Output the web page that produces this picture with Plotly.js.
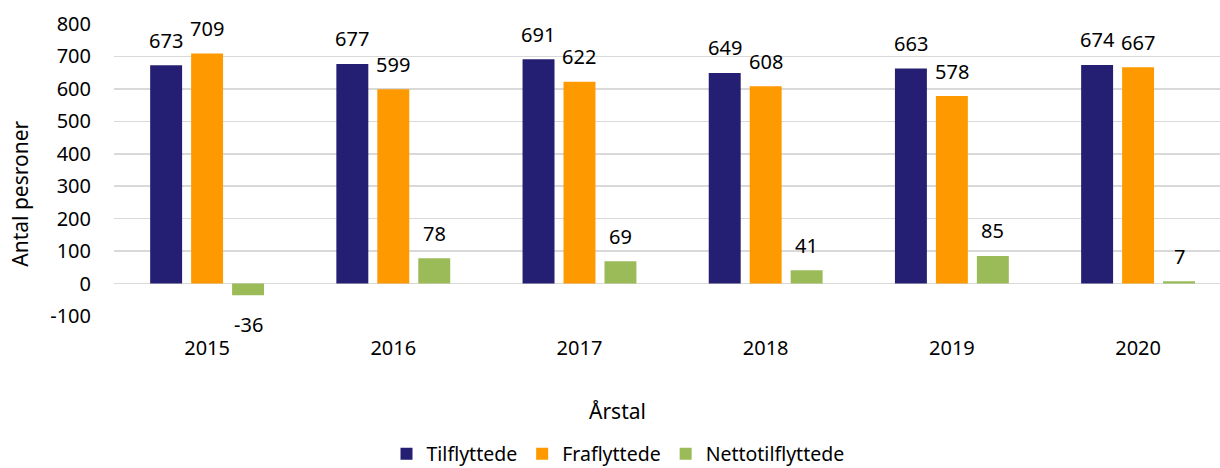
<!DOCTYPE html>
<html>
<head>
<meta charset="utf-8">
<script src="https://cdn.plot.ly/plotly-3.0.1.min.js"></script>
<style>html,body{margin:0;padding:0;background:#fff}#chart{width:1220px;height:468px}</style>
</head>
<body>
<div id="chart"></div>
<script>
const years = ["2015", "2016", "2017", "2018", "2019", "2020"];
const tilflyttede = [673, 677, 691, 649, 663, 674];
const fraflyttede = [709, 599, 622, 608, 578, 667];
const nettotilflyttede = [-36, 78, 69, 41, 85, 7];
const seriesNames = ["Tilflyttede", "Fraflyttede", "Nettotilflyttede"];
const seriesColors = ["#241f73", "#ff9900", "#9bbb59"];
const yTicks = [-100, 0, 100, 200, 300, 400, 500, 600, 700, 800];

const FONT = "Noto Sans, Open Sans, sans-serif";
const allSeries = [tilflyttede, fraflyttede, nettotilflyttede];

const traces = allSeries.map((vals, i) => ({
  type: "bar",
  name: seriesNames[i],
  x: years,
  y: vals,
  marker: { color: seriesColors[i], line: { width: 0 } },
  hoverinfo: "x+y+name"
}));

// plot geometry (for offsets only)
const plotL = 114, plotR = 1220, plotT = 24, plotB = 316.5;
const catCount = 5.94;
const pxPerCat = (plotR - plotL) / catCount;
const offsets = [-41 / pxPerCat, 0, 41 / pxPerCat];

const annotations = [];
allSeries.forEach((vals, i) => {
  vals.forEach((v, j) => {
    annotations.push({
      x: j + offsets[i], y: v, xref: "x", yref: "y",
      text: String(v), showarrow: false,
      yshift: v >= 0 ? 25 : -29,
      yanchor: "middle", xanchor: "center",
      font: { family: FONT, size: 20, color: "#000" }
    });
  });
});
const plotH = plotB - plotT, plotW = plotR - plotL;
annotations.push({
  text: "Årstal", xref: "paper", yref: "paper",
  x: (617 - plotL) / plotW, y: (plotB - 412) / plotH, showarrow: false,
  xanchor: "center", yanchor: "middle",
  font: { family: FONT, size: 21, color: "#000" }
});
annotations.push({
  text: "Antal pesroner", xref: "paper", yref: "paper",
  x: (20 - plotL) / plotW, y: (plotB - 194) / plotH, showarrow: false, textangle: -90,
  xanchor: "center", yanchor: "middle",
  font: { family: FONT, size: 21, color: "#000" }
});

const layout = {
  width: 1220, height: 468,
  margin: { l: plotL, r: 0, t: plotT, b: 468 - plotB },
  paper_bgcolor: "#fff", plot_bgcolor: "#fff",
  barmode: "group", bargap: 0.34, bargroupgap: 0.22,
  font: { family: FONT, size: 20, color: "#000" },
  xaxis: {
    type: "category", range: [-0.5, catCount - 0.5],
    showgrid: false, zeroline: false, showline: false,
    ticks: "", ticklabelstandoff: 18,
    tickfont: { family: FONT, size: 20, color: "#000" }
  },
  yaxis: {
    range: [-100, 800], tickvals: yTicks, ticktext: yTicks.map(String),
    showgrid: true, gridcolor: "#d9d9d9", gridwidth: 1.5,
    zeroline: true, zerolinecolor: "#d9d9d9", zerolinewidth: 1.5,
    showline: false, ticks: "", ticklabelstandoff: 22,
    tickfont: { family: FONT, size: 20, color: "#000" }
  },
  showlegend: true,
  legend: {
    orientation: "h", xref: "container", yref: "container",
    x: 618 / 1220, y: (468 - 454) / 468, xanchor: "center", yanchor: "middle",
    font: { family: FONT, size: 19.5, color: "#000" },
    itemsizing: "constant", traceorder: "normal"
  },
  annotations: annotations
};

Plotly.newPlot("chart", traces, layout, { displayModeBar: false, staticPlot: true });
</script>
</body>
</html>
